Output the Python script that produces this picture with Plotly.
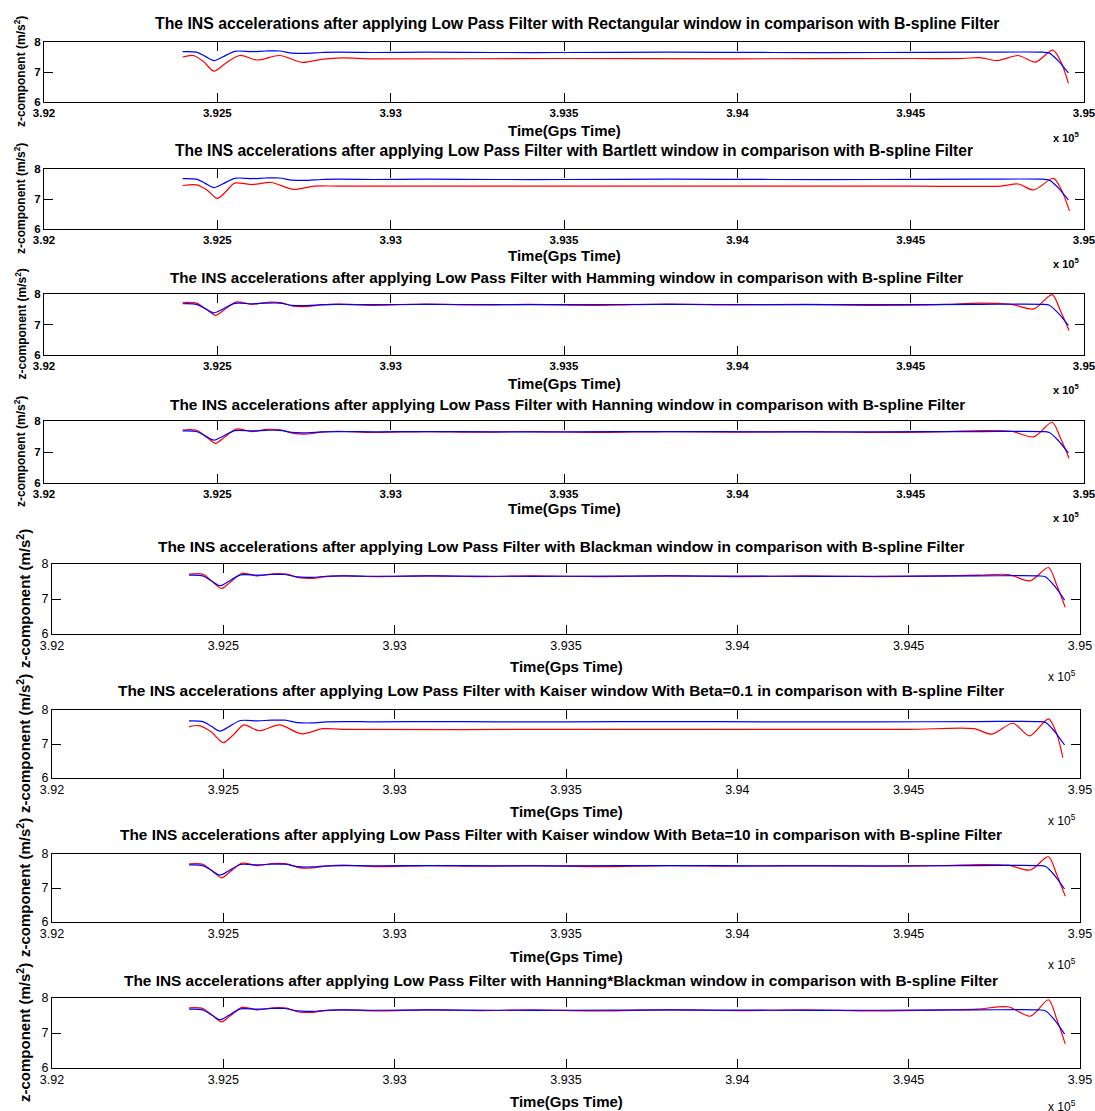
import plotly.graph_objects as go

# ---------------- data (GPS time in seconds, acceleration in m/s^2) ----------------
time_bspline = [392400, 392440, 392465, 392490, 392515, 392550, 392600, 392640, 392680, 392715,
                392760, 392800, 392850, 392950, 393100, 393300, 393500, 393800, 394100, 394400,
                394700, 394880, 394900, 394925, 394955]
accel_bspline = [7.68, 7.66, 7.52, 7.38, 7.50, 7.69, 7.68, 7.70, 7.70, 7.63,
                 7.62, 7.65, 7.66, 7.65, 7.66, 7.65, 7.65, 7.66, 7.65, 7.65,
                 7.66, 7.66, 7.63, 7.38, 6.97]

time_rect = [392400, 392430, 392460, 392490, 392525, 392565, 392615, 392680, 392745, 392800,
             392860, 392950, 393500, 394000, 394500, 394650, 394700, 394750, 394810, 394860,
             394910, 394935, 394955]
accel_rect = [7.50, 7.55, 7.35, 7.03, 7.30, 7.55, 7.40, 7.55, 7.32, 7.42,
              7.47, 7.44, 7.45, 7.44, 7.45, 7.45, 7.48, 7.38, 7.55, 7.33,
              7.73, 7.30, 6.62]

time_bartlett = [392400, 392440, 392470, 392500, 392525, 392550, 392600, 392655, 392720, 392780,
                 392850, 393500, 394000, 394500, 394760, 394810, 394855, 394912, 394935, 394958]
accel_bartlett = [7.45, 7.47, 7.30, 7.02, 7.25, 7.53, 7.48, 7.55, 7.32, 7.43,
                  7.43, 7.43, 7.43, 7.43, 7.43, 7.50, 7.30, 7.69, 7.30, 6.61]

time_close = [392400, 392440, 392470, 392495, 392520, 392555, 392600, 392645, 392685, 392720,
              392760, 392800, 392850, 392950, 393100, 393250, 393400, 393600, 393800, 394000,
              394200, 394400, 394600, 394700, 394790, 394855, 394908, 394932, 394957]
accel_hamming = [7.72, 7.70, 7.48, 7.30, 7.48, 7.74, 7.66, 7.73, 7.71, 7.60,
                 7.59, 7.64, 7.67, 7.63, 7.67, 7.64, 7.66, 7.63, 7.67, 7.64,
                 7.66, 7.63, 7.66, 7.70, 7.66, 7.51, 7.98, 7.45, 6.80]
accel_hanning = [7.71, 7.70, 7.47, 7.28, 7.47, 7.74, 7.66, 7.73, 7.71, 7.60,
                 7.58, 7.64, 7.67, 7.63, 7.66, 7.64, 7.66, 7.63, 7.66, 7.64,
                 7.66, 7.63, 7.66, 7.69, 7.67, 7.49, 7.96, 7.45, 6.80]
accel_blackman = [7.71, 7.71, 7.48, 7.30, 7.48, 7.73, 7.66, 7.72, 7.71, 7.61,
                  7.59, 7.64, 7.66, 7.64, 7.66, 7.64, 7.66, 7.64, 7.66, 7.64,
                  7.66, 7.64, 7.66, 7.68, 7.70, 7.52, 7.90, 7.40, 6.76]
accel_kaiser10 = [7.71, 7.70, 7.48, 7.30, 7.48, 7.73, 7.66, 7.72, 7.71, 7.60,
                  7.59, 7.64, 7.67, 7.63, 7.66, 7.64, 7.66, 7.63, 7.66, 7.64,
                  7.66, 7.64, 7.66, 7.69, 7.67, 7.53, 7.92, 7.40, 6.76]
accel_hannblack = [7.72, 7.70, 7.49, 7.32, 7.49, 7.73, 7.66, 7.72, 7.71, 7.60,
                   7.59, 7.64, 7.66, 7.63, 7.66, 7.64, 7.66, 7.63, 7.66, 7.64,
                   7.66, 7.63, 7.66, 7.68, 7.75, 7.48, 7.95, 7.40, 6.69]

time_kaiser01 = [392400, 392430, 392465, 392500, 392530, 392560, 392604, 392664, 392728, 392790,
                 392850, 393500, 394000, 394500, 394690, 394743, 394804, 394853, 394908, 394932,
                 394950]
accel_kaiser01 = [7.51, 7.54, 7.35, 7.04, 7.28, 7.56, 7.39, 7.56, 7.30, 7.45,
                  7.43, 7.43, 7.43, 7.43, 7.45, 7.29, 7.61, 7.24, 7.74, 7.30,
                  6.60]

window_names = ["Rectangular window", "Bartlett window", "Hamming window", "Hanning window",
                "Blackman window", "Kaiser window With Beta=0.1", "Kaiser window With Beta=10",
                "Hanning*Blackman window"]

x_tick_vals = [392000, 392500, 393000, 393500, 394000, 394500, 395000]
x_tick_text = ["3.92", "3.925", "3.93", "3.935", "3.94", "3.945", "3.95"]
y_tick_vals = [6, 7, 8]

red_series = [(time_rect, accel_rect), (time_bartlett, accel_bartlett),
              (time_close, accel_hamming), (time_close, accel_hanning),
              (time_close, accel_blackman), (time_kaiser01, accel_kaiser01),
              (time_close, accel_kaiser10), (time_close, accel_hannblack)]

# ---------------- layout geometry (page pixels) ----------------
W, H = 1095, 1111
# (left, right, top, bottom, title_x, title_y, title_size, xlabel_y, x10_y, ylabel_x, first_style)
panels = [
    (44, 1084, 42, 102, 577, 24, 15.8, 130, 137, 20, True),
    (44, 1084, 169, 229, 574, 150, 15.6, 256, 263, 20, True),
    (44, 1084, 294, 355, 566, 277, 15.2, 383, 389, 20, True),
    (44, 1084, 421, 483, 567, 404, 15.4, 509, 517, 20, True),
    (52, 1080, 564, 634, 561, 546, 15.4, 666, 676, 23, False),
    (52, 1080, 710, 778, 561, 690, 15.4, 811, 820, 23, False),
    (52, 1080, 854, 922, 561, 834, 15.4, 956, 964, 23, False),
    (52, 1080, 998, 1068, 561, 980, 15.4, 1101, 1106, 23, False),
]


def px(xp):
    return xp / W


def py(yp):
    return 1 - yp / H


FONT = "Arial, Liberation Sans, sans-serif"
fig = go.Figure()
annotations = []
layout = dict(width=W, height=H, margin=dict(l=0, r=0, t=0, b=0, autoexpand=False),
              paper_bgcolor="white", plot_bgcolor="white", showlegend=False,
              template="none",
              font=dict(family=FONT, color="black"))

for i, (l, r, t, b, tx_c, ty, tsize, xly, x10y, ylx, bold) in enumerate(panels):
    n = i + 1
    xa = "x" if n == 1 else f"x{n}"
    ya = "y" if n == 1 else f"y{n}"
    tx, tyv = red_series[i]
    fig.add_trace(go.Scatter(x=tx, y=tyv, mode="lines",
                             line=dict(color="#FF0000", width=1.2, shape="spline", smoothing=0.8),
                             xaxis=xa, yaxis=ya, hoverinfo="skip"))
    fig.add_trace(go.Scatter(x=time_bspline, y=accel_bspline, mode="lines",
                             line=dict(color="#0000FF", width=1.2, shape="spline", smoothing=0.8),
                             xaxis=xa, yaxis=ya, hoverinfo="skip"))
    tickfont = dict(family=FONT, size=11.5 if bold else 12.5, color="black",
                    weight="bold" if bold else "normal")
    common = dict(showline=True, linecolor="black", linewidth=1, mirror="ticks", ticks="inside",
                  ticklen=9, tickcolor="black", tickwidth=1, showgrid=False, zeroline=False,
                  automargin=False, tickfont=tickfont, ticklabeloverflow="allow")
    layout[("xaxis" if n == 1 else f"xaxis{n}")] = dict(
        domain=[px(l), px(r)], anchor=ya, range=[392000, 395000],
        tickmode="array", tickvals=x_tick_vals, ticktext=x_tick_text, **common)
    layout[("yaxis" if n == 1 else f"yaxis{n}")] = dict(
        domain=[py(b), py(t)], anchor=xa, range=[6, 8],
        tickmode="array", tickvals=y_tick_vals, **common)
    cx = px((l + r) / 2)
    annotations.append(dict(text=f"The INS accelerations after applying Low Pass Filter with {window_names[i]} in comparison with B-spline Filter",
                            x=px(tx_c), y=py(ty), xref="paper", yref="paper", showarrow=False,
                            xanchor="center", yanchor="middle",
                            font=dict(family=FONT, size=tsize, weight="bold", color="black")))
    annotations.append(dict(text="Time(Gps Time)", x=cx, y=py(xly), xref="paper", yref="paper",
                            showarrow=False, xanchor="center", yanchor="middle",
                            font=dict(family=FONT, size=15, weight="bold", color="black")))
    annotations.append(dict(text="x 10<sup>5</sup>", x=px(r - 18), y=py(x10y), xref="paper", yref="paper",
                            showarrow=False, xanchor="center", yanchor="middle",
                            font=dict(family=FONT, size=11 if bold else 12,
                                      weight="bold" if bold else "normal", color="black")))
    annotations.append(dict(text="z-component (m/s<sup>2</sup>)", x=px(ylx), y=py((t + b) / 2),
                            xref="paper", yref="paper", showarrow=False, textangle=-90,
                            xanchor="center", yanchor="middle",
                            font=dict(family=FONT, size=12 if bold else 15, weight="bold", color="black")))

layout["annotations"] = annotations
fig.update_layout(**layout)
fig.write_html("out.html", config={"displayModeBar": False, "staticPlot": True},
               post_script="document.body.style.margin='0px';document.body.style.overflow='hidden';")
